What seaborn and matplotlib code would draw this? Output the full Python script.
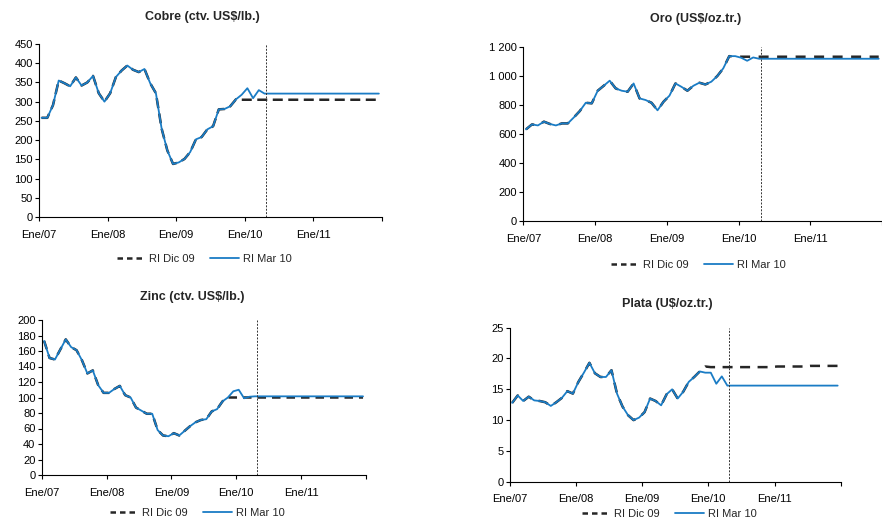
import numpy as np
import pandas as pd
import matplotlib
matplotlib.use("Agg")
import matplotlib.pyplot as plt
from matplotlib.lines import Line2D
import seaborn as sns

# ---------------------------------------------------------------- data
etiquetas_x = ["Ene/07", "Ene/08", "Ene/09", "Ene/10", "Ene/11", ""]
series_nombres = ["RI Dic 09", "RI Mar 10"]

# Monthly averages, Jan 2007 - Apr 2010
cobre_obs = [258, 258, 291, 355, 348, 340, 363, 342, 350, 367,
             322, 300, 322, 364, 381, 394, 383, 377, 385, 348,
             322, 230, 173, 138, 142, 151, 169, 202, 208, 228,
             236, 280, 281, 288, 306, 318, 335, 309, 330, 321]
cobre_dic09_proy = [305] * 25
cobre_mar10_proy = [321] * 20

oro_obs = [631, 665, 658, 684, 668, 658, 672, 672, 713, 757,
           814, 810, 897, 931, 966, 913, 897, 890, 947, 844,
           833, 814, 762, 821, 863, 947, 924, 897, 931, 952,
           940, 959, 998, 1051, 1135, 1135, 1124, 1103, 1126, 1117]
oro_dic09_proy = [1131] * 25
oro_mar10_proy = [1117] * 20

zinc_obs = [173, 151, 149, 162, 175, 165, 161, 148, 131, 135,
            116, 106, 106, 111, 115, 103, 100, 87, 83, 79,
            79, 58, 51, 50, 54, 51, 57, 63, 68, 71,
            72, 82, 85, 95, 100, 108, 110, 99, 101, 101.5]
zinc_dic09_proy = [100] * 25
zinc_mar10_proy = [101.5] * 20

plata_obs = [12.8, 14.0, 13.1, 13.8, 13.2, 13.1, 12.9, 12.3, 12.9, 13.6,
             14.7, 14.3, 16.2, 17.7, 19.3, 17.6, 17.0, 17.0, 18.1, 14.3,
             12.2, 10.8, 10.0, 10.4, 11.3, 13.5, 13.1, 12.4, 14.2, 15.0,
             13.5, 14.6, 16.2, 17.0, 17.9, 17.7, 17.7, 15.9, 17.1, 15.6]
plata_dic09_proy = [18.7] + [18.6] * 12 + [18.7] * 6 + [18.8] * 6
plata_mar10_proy = [15.6] * 20

cobre_yticks = [0, 50, 100, 150, 200, 250, 300, 350, 400, 450]
oro_yticks = [0, 200, 400, 600, 800, 1000, 1200]
oro_ylabels = ["0", "200", "400", "600", "800", "1 000", "1 200"]
zinc_yticks = [0, 20, 40, 60, 80, 100, 120, 140, 160, 180, 200]
plata_yticks = [0, 5, 10, 15, 20, 25]

# ---------------------------------------------------------------- style
sns.set_style("ticks")
plt.rcParams["font.family"] = ["Liberation Sans", "DejaVu Sans"]
plt.rcParams.update({
    "axes.linewidth": 0.8,
    "axes.edgecolor": "black",
    "xtick.major.size": 3,
    "ytick.major.size": 3,
    "xtick.major.width": 0.8,
    "ytick.major.width": 0.8,
    "xtick.color": "black",
    "ytick.color": "black",
})

AZUL = "#1a7cc5"
NEGRO = "#262626"
W, H = 882, 522
N_DIC = 35          # last observed month in the December report
CORTE = 39.75       # March report cut-off

fig = plt.figure(figsize=(W / 100, H / 100), dpi=100)


def panel(caja, xmax, titulo, pos_titulo, pos_leyenda, obs, dic_proy, mar_proy,
          yticks, ylabels, patron):
    l, r, t, b = caja
    ax = fig.add_axes([l / W, 1 - b / H, (r - l) / W, (b - t) / H])
    mar = list(obs) + list(mar_proy)
    dic = list(obs[:N_DIC]) + list(dic_proy)
    df = pd.DataFrame({"mes": np.arange(len(mar)) + 0.45, "mar": mar, "dic": dic})

    sns.lineplot(data=df, x="mes", y="dic", ax=ax, color=NEGRO, linewidth=1.8,
                 linestyle=(0, patron), legend=False)
    sns.lineplot(data=df, x="mes", y="mar", ax=ax, color=AZUL, linewidth=1.3,
                 legend=False)
    ax.axvline(CORTE, color="#333333", linewidth=0.7, linestyle=(0, (2, 1.5)))

    ax.set_xlim(0, xmax)
    ax.set_ylim(yticks[0], yticks[-1])
    ax.set_xticks([0, 12, 24, 36, 48, 60])
    ax.set_xticklabels(etiquetas_x, fontsize=8)
    ax.set_yticks(yticks)
    ax.set_yticklabels(ylabels if ylabels else [str(v) for v in yticks], fontsize=8)
    ax.tick_params(axis="x", pad=6)
    ax.tick_params(axis="y", pad=1.5)
    ax.set_xlabel("")
    ax.set_ylabel("")
    sns.despine(ax=ax)

    fig.text(pos_titulo[0] / W, 1 - pos_titulo[1] / H, titulo, ha="center",
             va="center", fontsize=9, fontweight="bold")
    handles = [Line2D([], [], color=NEGRO, linewidth=1.8, linestyle=(0, (2.2, 1.6))),
               Line2D([], [], color=AZUL, linewidth=1.3)]
    fig.legend(handles, series_nombres, loc="center",
               bbox_to_anchor=(pos_leyenda[0] / W, 1 - pos_leyenda[1] / H),
               ncol=2, frameon=False, fontsize=8, handlelength=2.6,
               handletextpad=0.3, columnspacing=1.45)
    return ax


panel((39, 382, 44, 217), 60, "Cobre (ctv. US$/lb.)", (202, 17), (204, 259),
      cobre_obs, cobre_dic09_proy, cobre_mar10_proy, cobre_yticks, None, (4, 2.2))
panel((523.3, 882, 46.7, 221), 59.37, "Oro (US$/oz.tr.)", (696, 19), (698, 265),
      oro_obs, oro_dic09_proy, oro_mar10_proy, oro_yticks, oro_ylabels, (4, 3.4))
panel((41.7, 366, 320, 475), 60, "Zinc (ctv. US$/lb.)", (192, 297), (197, 513),
      zinc_obs, zinc_dic09_proy, zinc_mar10_proy, zinc_yticks, None, (3.4, 2.4))
panel((509.7, 840.7, 327.7, 481.7), 60, "Plata (U$/oz.tr.)", (667, 304), (669, 514),
      plata_obs, plata_dic09_proy, plata_mar10_proy, plata_yticks, None, (4, 3))

fig.savefig("out.png", dpi=100)
